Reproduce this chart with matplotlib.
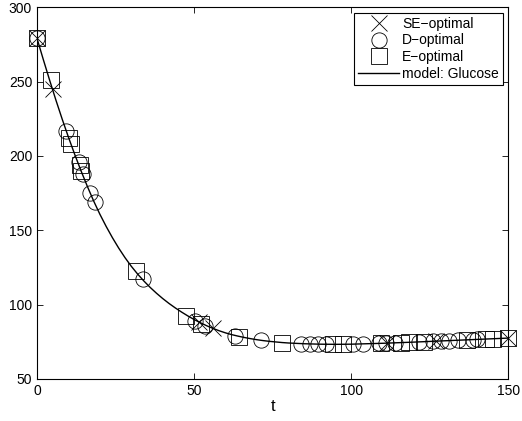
import matplotlib
matplotlib.use("Agg")
import matplotlib.pyplot as plt

plt.rcParams['font.family'] = ['Liberation Sans', 'DejaVu Sans']

# model curve
model_t = [0, 2, 4, 6, 8, 10, 12, 14, 16, 18, 20, 22, 24, 26, 28, 30, 32, 34, 36,
           38, 40, 42, 44, 46, 48, 50, 52, 54, 56, 58, 60, 62, 64, 66, 68, 70, 72,
           74, 76, 78, 80, 85, 90, 95, 100, 110, 120, 130, 140, 150]
model_v = [279, 264.8, 251.0, 237.6, 224.8, 212.6, 201.0, 190.0, 179.6, 169.8,
           160.8, 152.6, 145.0, 138.0, 131.6, 125.8, 120.6, 115.9, 111.6, 107.7,
           104.1, 100.8, 97.8, 95.0, 92.4, 90.0, 87.8, 85.8, 84.0, 82.4, 81.0,
           79.8, 78.8, 77.9, 77.1, 76.4, 75.8, 75.3, 74.9, 74.5, 74.2, 73.7, 73.4,
           73.3, 73.4, 74.0, 74.8, 75.7, 76.6, 77.5]

# SE-optimal sampling points
se_t = [0, 5, 51.5, 56, 111.5, 127, 150]
se_v = [279, 245, 88.5, 84, 74.1, 75.4, 77.5]

# D-optimal sampling points
d_t = [0, 9.2, 13.3, 14.5, 16.8, 18.4, 33.8, 50.2, 53.4, 63, 71.4, 84, 87, 89.5,
       92, 100.5, 103.7, 109, 111, 113.8, 121.7, 126, 128.5, 131, 134, 138.6, 140]
d_v = [279, 216.7, 195.8, 188, 175, 168.7, 117, 89, 85.6, 79, 76, 73.7, 73.5,
       73.4, 73.4, 73.4, 73.6, 73.9, 74.1, 74.3, 74.9, 75.3, 75.5, 75.8, 76,
       76.5, 76.6]

# E-optimal sampling points
e_t = [0, 4.3, 10.3, 10.8, 13.7, 14, 31.5, 47.4, 52.3, 64.3, 78, 94.2, 97.3,
       109.5, 115.9, 118.5, 123.3, 137, 142.9, 145, 150]
e_v = [279, 251, 211.7, 207.7, 194, 190, 122.6, 92.5, 87, 78.4, 74.5, 73.3, 73.4,
       74, 74.5, 74.7, 75.1, 76.3, 76.8, 77, 77.5]

fig = plt.figure(figsize=(5.22, 4.21), dpi=100)
ax = fig.add_axes([0.0709, 0.0998, 0.9029, 0.8832])

ax.plot(se_t, se_v, 'x', color='black', markersize=12, markeredgewidth=0.6,
        clip_on=False, label='SE\u2212optimal')
ax.plot(d_t, d_v, 'o', color='black', markerfacecolor='none', markersize=11,
        markeredgewidth=0.6, clip_on=False, label='D\u2212optimal')
ax.plot(e_t, e_v, 's', color='black', markerfacecolor='none', markersize=11,
        markeredgewidth=0.6, clip_on=False, label='E\u2212optimal')
ax.plot(model_t, model_v, '-', color='black', linewidth=1.0, label='model: Glucose')

ax.set_xlim(0, 150)
ax.set_ylim(50, 300)
ax.set_xticks([0, 50, 100, 150])
ax.set_yticks([50, 100, 150, 200, 250, 300])
ax.tick_params(direction='in', top=True, right=True, labelsize=10, length=4, width=0.6)
ax.set_xlabel('t', fontsize=12, labelpad=1)
for s in ax.spines.values():
    s.set_linewidth(0.8)

leg = ax.legend(loc='upper right', fontsize=10, fancybox=False, framealpha=1,
                edgecolor='black', borderpad=0.28, labelspacing=0.2,
                handlelength=2.9, handletextpad=0.25, borderaxespad=0.4)
leg.get_frame().set_linewidth(0.8)

fig.savefig('out.png', dpi=100)
